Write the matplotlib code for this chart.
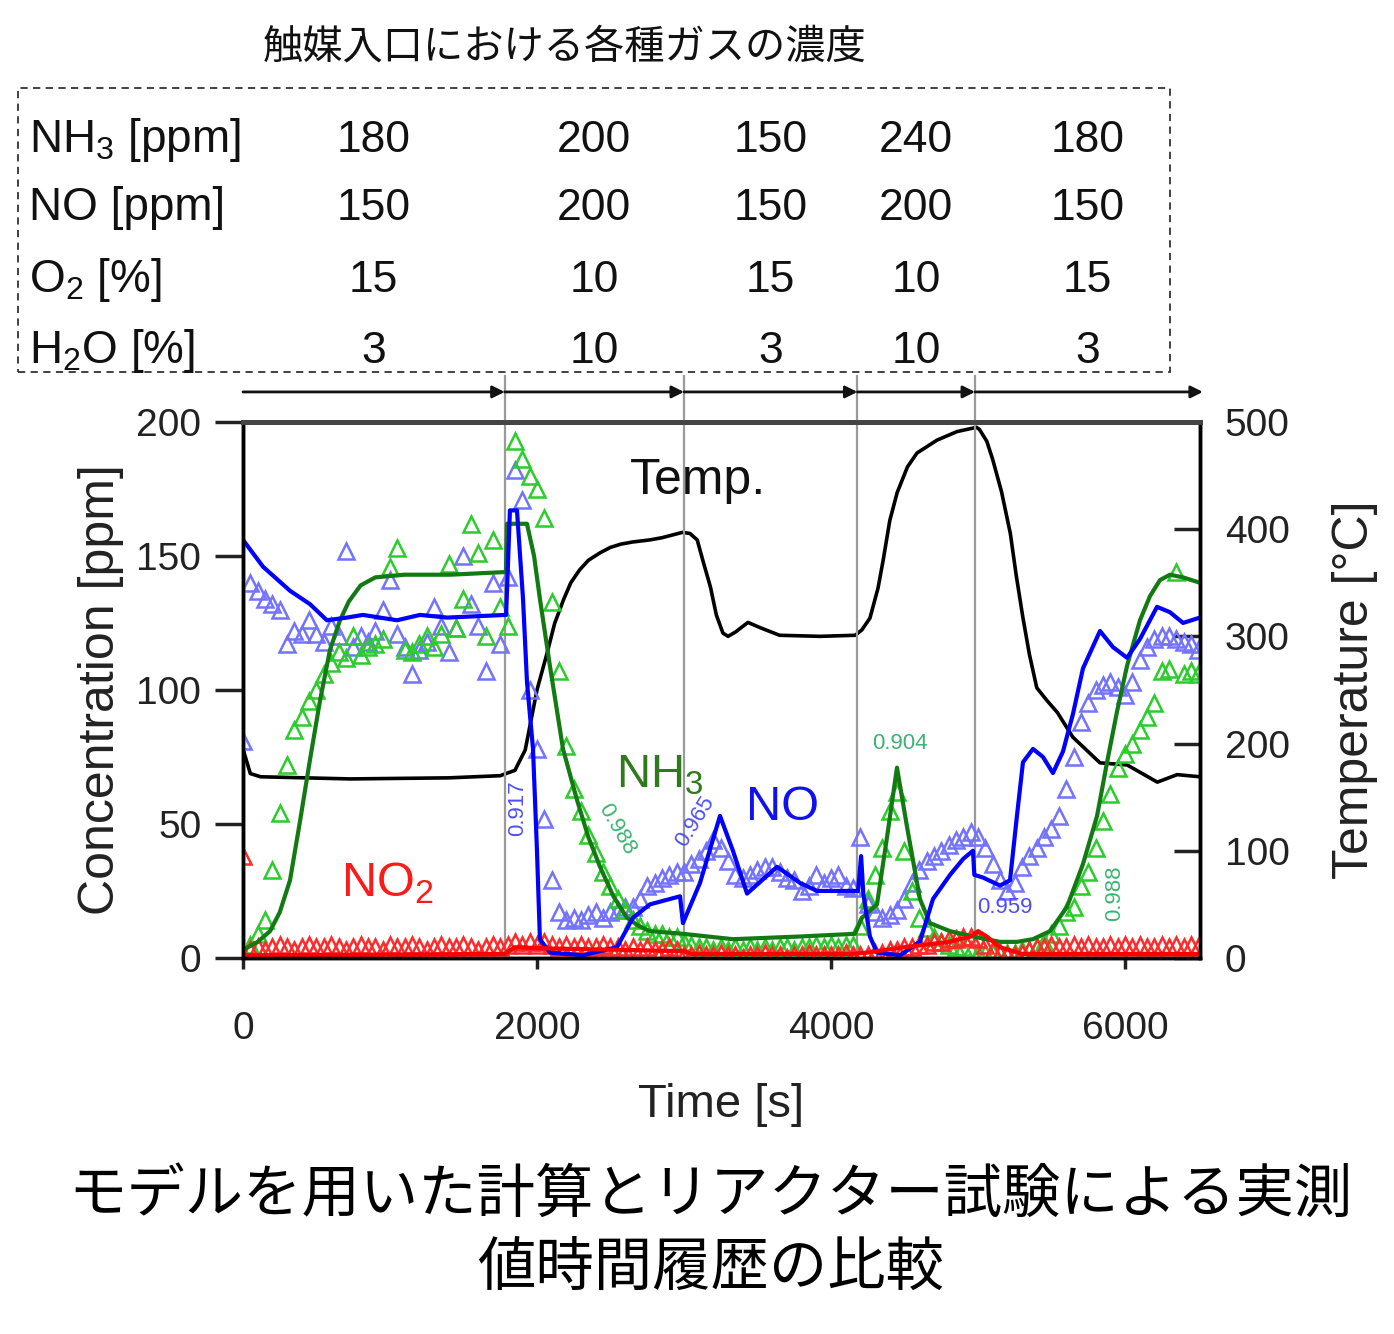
import numpy as np
import matplotlib
matplotlib.use("Agg")
import matplotlib.pyplot as plt
from matplotlib.patches import Rectangle
from matplotlib.transforms import blended_transform_factory

plt.rcParams['font.family'] = ['Liberation Sans', 'Noto Sans CJK JP', 'DejaVu Sans']
plt.rcParams['mathtext.default'] = 'regular'

# --- inlet conditions (table above the plot) ---
switch_t = [1780, 3000, 4180, 4980]
seg_edges = [0, 1780, 3000, 4180, 4980, 6510]
row_labels = ["NH$_3$ [ppm]", "NO [ppm]", "O$_2$ [%]", "H$_2$O [%]"]
nh3_in = [180, 200, 150, 240, 180]
no_in = [150, 200, 150, 200, 150]
o2_in = [15, 10, 15, 10, 15]
h2o_in = [3, 10, 3, 10, 3]

# --- measured data (triangles), sampled every 50 s ---
meas_t = np.arange(0, 6501, 50)
nh3_meas = [2, 5, 9, 14, 33, 54, 72, 85, 90, 96, 100, 106, 110, 114, 112, 120, 113, 116, 117, 119,
            146, 153, 115, 114, 117, 120, 116, 121, 147, 123, 134, 162, 151, 120, 156, 131,
            124, 193, 186, 180, 175, 164, 133, 107, 79, 63, 55, 46, 39, 32, 27, 22, 18, 14, 12, 10,
            9, 9, 8, 8,
            6, 5, 4, 4, 3, 4, 3, 4, 3, 4, 3, 4, 3, 4, 4, 3, 4, 4, 5, 4, 5, 4, 5, 5,
            12, 22, 31, 41, 55, 62, 40, 25, 15, 11, 8, 6, 5, 4, 4, 3,
            2, 2, 2, 2, 2, 2, 3, 3, 4, 6, 9, 12, 17, 19, 27, 32, 41, 51, 61, 71,
            76, 80, 85, 90, 95, 107, 108, 144, 106, 107, 106]
no_meas = [81, 140, 137, 134, 132, 130, 117, 122, 121, 126, 121, 118, 124, 120, 152, 116, 120, 118, 122, 130,
           141, 121, 116, 106, 115, 118, 131, 124, 114, 123, 150, 132, 124, 107, 140, 117,
           142, 182, 171, 100, 78, 52, 29, 17, 14, 15, 14, 16, 17, 15, 17, 18, 19, 19, 22, 27,
           28, 30, 31, 32,
           32, 35, 37, 40, 44, 41, 36, 31, 30, 31, 33, 34, 34, 32, 30, 29, 25, 27, 31, 28, 30, 31, 27, 26,
           45, 20, 17, 15, 16, 18, 22, 28, 33, 36, 38, 40, 42, 44, 45, 47,
           45, 41, 35, 29, 25, 28, 34, 38, 41, 45, 48, 53, 63, 75, 88, 95, 100, 102, 103, 101,
           98, 103, 111, 116, 119, 120, 120, 119, 118, 117, 115]
no2_meas = [38, 3, 4, 3, 4, 5, 4, 3, 4, 5, 4, 4, 5, 4, 3, 4, 5, 4, 4, 3,
            5, 4, 4, 5, 4, 3, 4, 5, 4, 4, 5, 4, 3, 4, 5, 4,
            5, 6, 5, 6, 5, 6, 5, 4, 5, 4, 5, 4, 4, 5, 4, 4, 3, 4, 3, 4,
            3, 3, 4, 3,
            1, 1, 2, 1, 1, 2, 1, 1, 0, 1, 1, 2, 1, 1, 0, 1, 1, 2, 1, 1, 1, 1, 2, 1,
            1, 1, 2, 2, 3, 3, 4, 4, 5, 5, 6, 6, 7, 7, 8, 8,
            7, 5, 3, 2, 1, 1, 2, 3, 4, 4, 5, 4, 4, 5, 4, 5, 4, 4, 5, 4,
            5, 4, 5, 4, 4, 5, 4, 5, 4, 5, 4]

# --- model calculation (lines) ---
nh3_calc_t = [0, 100, 184, 250, 320, 388, 456, 524, 592, 660, 720, 800, 900, 1100, 1408, 1789,
              1796, 1932, 1980, 2020, 2088, 2177, 2272, 2350, 2429, 2520, 2612, 2690, 2769, 2993,
              3333, 3789, 4163, 4211, 4313, 4381, 4449, 4517, 4605, 4673, 4810, 4966, 5150, 5265,
              5374, 5490, 5605, 5714, 5810, 5878, 5946, 6014, 6102, 6170, 6238, 6306, 6395, 6510]
nh3_calc = [3, 6, 10, 17, 29, 51, 74, 96, 115, 126, 133, 139, 142, 143, 143, 144,
            162, 162, 150, 134, 109, 78, 59, 45, 34, 23, 15, 12, 10, 9,
            7, 8, 9, 15, 20, 45, 71, 49, 22, 13, 10, 8, 6, 6,
            7, 10, 19, 35, 53, 73, 92, 109, 126, 135, 141, 143, 142, 140]
no_calc_t = [0, 136, 320, 456, 571, 707, 816, 1048, 1204, 1388, 1790, 1816, 1864, 1905, 1932, 1973,
             2000, 2020, 2088, 2313, 2544, 2653, 2769, 2973, 2993, 3109, 3245, 3333, 3429, 3633,
             3789, 3905, 4184, 4205, 4220, 4265, 4313, 4469, 4605, 4694, 4810, 4900, 4966, 4975,
             5034, 5150, 5218, 5265, 5306, 5374, 5442, 5510, 5578, 5646, 5714, 5830, 5918, 6014,
             6102, 6218, 6306, 6395, 6510]
no_calc = [156, 146, 137, 132, 126, 127, 128, 126, 128, 127, 128, 167, 167, 134, 103, 78,
           40, 7, 2, 1, 4, 15, 20, 23, 13, 28, 53, 40, 24, 34,
           28, 25, 25, 38, 24, 8, 2, 1, 6, 22, 31, 37, 40, 31,
           30, 27, 29, 53, 73, 78, 75, 69, 77, 91, 108, 122, 116, 112,
           119, 131, 129, 125, 127]
no2_calc_t = [0, 1780, 1850, 2100, 2600, 3000, 3050, 4150, 4250, 4500, 4800, 4950, 5000, 5060,
              5150, 5300, 6510]
no2_calc = [1, 1.5, 4, 3.5, 3, 2.5, 1.5, 1.5, 2, 4, 6, 8, 10, 8, 4, 1.5, 1.5]
temp_t = [0, 50, 120, 730, 1400, 1750, 1850, 1920, 2000, 2070, 2120, 2180, 2230, 2290, 2350,
          2430, 2500, 2570, 2650, 2770, 2850, 2990, 3040, 3090, 3130, 3180, 3220, 3265, 3300,
          3350, 3435, 3520, 3650, 3925, 4165, 4210, 4265, 4320, 4355, 4400, 4450, 4520, 4585,
          4721, 4857, 4990, 5010, 5060, 5100, 5160, 5220, 5260, 5305, 5350, 5400, 5470, 5540,
          5645, 5830, 6015, 6220, 6355, 6510]
temp = [195, 172, 169, 167, 168, 170, 175, 194, 250, 285, 312, 334, 350, 362, 371,
        378, 383, 386, 388, 390, 392, 397, 396, 390, 370, 346, 320, 303, 300,
        304, 313, 308, 301, 300, 301, 306, 317, 345, 371, 408, 434, 458, 471,
        483, 491, 495, 493, 482, 465, 435, 396, 357, 318, 283, 252, 240, 229,
        206, 182, 180, 164, 171, 169]

# --- figure ---
fig = plt.figure(figsize=(13.94, 13.34), dpi=100)
ax = fig.add_axes([0.1743, 0.2819, 0.6865, 0.4018])
ax2 = ax.twinx()
ax.set_zorder(ax2.get_zorder() + 1)
ax.patch.set_visible(False)

ax2.plot(temp_t, temp, color='black', lw=2.6)

tri = dict(marker='^', ls='none', ms=12, mfc='none', mew=1.8)
ax.plot(meas_t, no_meas, color='#7373ff', **tri)
ax.plot(meas_t, nh3_meas, color='#2ccc2c', **tri)
ax.plot(meas_t, no2_meas, color='#ff2a2a', **tri)
ax.plot(nh3_calc_t, nh3_calc, color='#137a13', lw=3)
ax.plot(no_calc_t, no_calc, color='#0000ff', lw=3)
ax.plot(no2_calc_t, no2_calc, color='#ff0000', lw=3)

ax.set_xlim(0, 6510)
ax.set_ylim(0, 200)
ax2.set_ylim(0, 500)
ax.set_xticks([0, 2000, 4000, 6000])
ax.set_yticks([0, 50, 100, 150, 200])
ax2.set_yticks([0, 100, 200, 300, 400, 500])

ax.tick_params(axis='y', direction='out', length=20, width=2.5, pad=10, labelsize=28, colors='#222')
ax.tick_params(axis='x', direction='out', length=8, width=2.5, pad=30, labelsize=28, colors='#222')
ax2.tick_params(axis='y', direction='in', length=19, width=2.5, pad=18, labelsize=28, colors='#222')
for a in (ax, ax2):
    for s in ('left', 'right', 'bottom'):
        a.spines[s].set_linewidth(2.5)
        a.spines[s].set_color('black')
    a.spines['top'].set_linewidth(3.5)
    a.spines['top'].set_color('#444444')

ax.set_xlabel('Time [s]', fontsize=34, labelpad=26, color='#222')
ax.set_ylabel('Concentration [ppm]', fontsize=36, labelpad=9, color='#222')
ax2.set_ylabel('Temperature [°C]', fontsize=36, labelpad=30, color='#222')

# condition switching lines and arrows
xtr = ax.get_xaxis_transform()
ax.vlines(switch_t, 0, 1.088, transform=xtr, colors='#9a9a9a', lw=1.6, clip_on=False, zorder=0.5)
for a, b in zip(seg_edges[:-1], seg_edges[1:]):
    ax.annotate('', xy=(b + 20 if b == seg_edges[-1] else b, 1.056), xytext=(a, 1.056),
                xycoords=xtr, textcoords=xtr, annotation_clip=False,
                arrowprops=dict(arrowstyle='-|>', lw=2, color='#111', mutation_scale=18,
                                shrinkA=0, shrinkB=0))

# in-plot labels
ax.text(3095, 178, 'Temp.', fontsize=36, ha='center', va='center', color='#111')
ax.text(2837, 68, 'NH$_3$', fontsize=34, ha='center', va='center', color='#2f7a1c')
ax.text(3673, 56, 'NO', fontsize=35, ha='center', va='center', color='#1010f0')
ax.text(980, 28, 'NO$_2$', fontsize=35, ha='center', va='center', color='#ff1a1a')
ax.text(4469, 80, '0.904', fontsize=16, ha='center', va='center', color='#3cb371')
ax.text(5184, 18.7, '0.959', fontsize=16, ha='center', va='center', color='#4f4ff0')
ax.text(5932, 24, '0.988', fontsize=16, ha='center', va='center', color='#3cb371', rotation=90)
ax.text(1871, 56, '0.917', fontsize=16, ha='center', va='center', color='#4f4ff0', rotation=90)
ax.text(2544, 48, '0.988', fontsize=16, ha='center', va='center', color='#3cb371', rotation=-60)
ax.text(3075, 51, '0.965', fontsize=16, ha='center', va='center', color='#4f4ff0', rotation=58)

# inlet condition table
fig.add_artist(Rectangle((0.0129, 0.7211), 0.8264, 0.2129, transform=fig.transFigure,
                         fill=False, ls=(0, (4, 3)), lw=1.3, ec='#333333'))
fig.text(0.4053, 0.9648, '触媒入口における各種ガスの濃度', fontsize=29, ha='center', va='center',
         family=['Noto Sans CJK JP', 'DejaVu Sans'], color='#111')
row_y = [0.886, 0.835, 0.781, 0.728]
tbl = blended_transform_factory(ax.transData, fig.transFigure)
centers = [(a + b) / 2 for a, b in zip(seg_edges[:-1], seg_edges[1:])]
for lab, vals, y in zip(row_labels, [nh3_in, no_in, o2_in, h2o_in], row_y):
    fig.text(0.021, y, lab, fontsize=33, ha='left', va='baseline', color='#111')
    for cx, v in zip(centers, vals):
        fig.text(cx, y, str(v), fontsize=32, ha='center', va='baseline', transform=tbl, color='#111')

# caption
cap_font = ['Noto Sans CJK JP', 'DejaVu Sans']
fig.text(0.5095, 0.1042, 'モデルを用いた計算とリアクター試験による実測', fontsize=42,
         ha='center', va='center', family=cap_font)
fig.text(0.5095, 0.0495, '値時間履歴の比較', fontsize=42, ha='center', va='center', family=cap_font)

fig.savefig('out.png', dpi=100)
